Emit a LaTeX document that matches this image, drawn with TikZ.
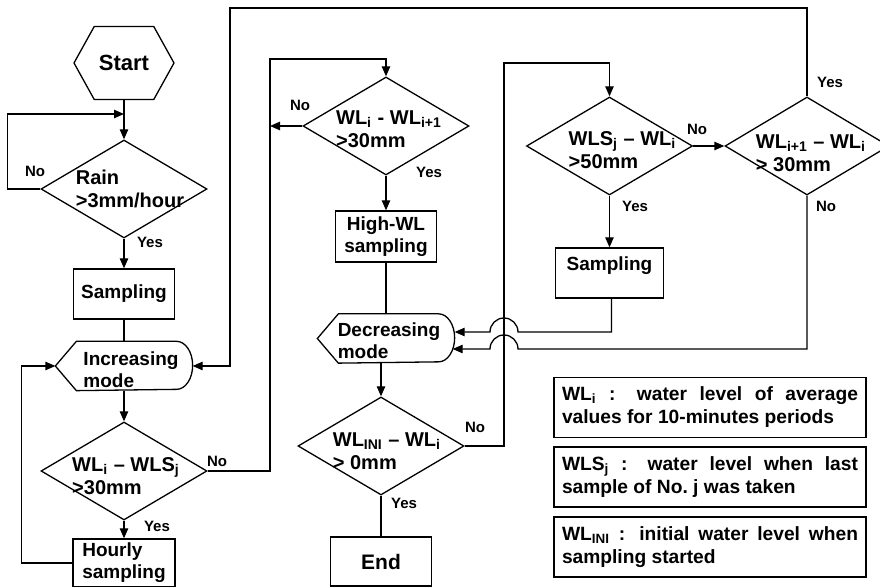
\documentclass[tikz,border=0pt]{standalone}
\usepackage{fontspec}
\setmainfont{Liberation Sans}
\usetikzlibrary{arrows.meta, shapes.geometric, shapes.symbols}

% outline of a "mode" node: pointed left end, rounded right end
\newcommand{\modeshape}[1]{%
  \draw (#1.west) -- ([xshift=10.5pt]#1.north west) -- ([xshift=-8pt]#1.north east)
    arc[start angle=90, end angle=-90, x radius=8pt, y radius=12pt]
    -- ([xshift=10.5pt]#1.south west) -- cycle;}
\newcommand{\nohyph}{\hyphenpenalty=10000\relax}

\begin{document}
\begin{tikzpicture}[x=0.5pt, y=-0.5pt, line width=0.65pt,
    >={Triangle[length=5pt, width=4.2pt]},
    font=\fontsize{9.5}{11}\selectfont\bfseries,
    box/.style={draw, minimum width=50.5pt, minimum height=25pt, inner sep=1pt, align=center},
    dec/.style={draw, diamond, inner sep=0pt, minimum width=83pt, minimum height=49pt},
    dtext/.style={font=\fontsize{10}{11.5}\selectfont\bfseries, align=left, inner sep=0pt},
    mode/.style={minimum width=68pt, minimum height=24pt, inner sep=0pt},
    mtext/.style={align=left, inner sep=0pt},
    lbl/.style={font=\fontsize{7.5}{9}\selectfont\bfseries, inner sep=0pt},
    leg/.style={draw, text width=148pt, inner xsep=4pt, minimum height=30pt, align=justify,
                font=\fontsize{9.6}{11.5}\selectfont\bfseries\nohyph}]
  \useasboundingbox (0,0) rectangle (880,587);

  % left column
  \node[draw, signal, signal to=west and east, signal pointer angle=122, minimum width=50pt,
        minimum height=36.5pt, inner sep=0pt, font=\fontsize{11}{13}\selectfont\bfseries] (start) at (124,63) {Start};
  \node[dec, label={[dtext, xshift=3pt]center:Rain\\>3mm/hour}] (rain) at (124,189) {};
  \node[box] (samp1) at (124,294) {Sampling};
  \node[mode, label={[mtext, xshift=3.5pt, yshift=-2pt]center:Increasing\\mode}] (incm) at (124,366) {};
  \modeshape{incm}
  \node[dec, label={[dtext, xshift=1pt, yshift=-2.5pt]center:WL\textsubscript{i} – WLS\textsubscript{j}\\>30mm}] (cond1) at (124,471) {};
  \node[box, align=left, minimum width=51pt, minimum height=24pt] (hourly) at (124,563) {Hourly\\sampling};

  % middle column
  \node[dec, label={[dtext, xshift=1.5pt, yshift=-1.5pt]center:WL\textsubscript{i} - WL\textsubscript{i+1}\\>30mm}] (cond2) at (386,126) {};
  \node[box, minimum height=25.5pt] (highwl) at (386,236.5) {High-WL\\sampling};
  \node[mode, label={[mtext, xshift=1.5pt, yshift=-1pt]center:Decreasing\\mode}] (decm) at (386,338.5) {};
  \modeshape{decm}
  \node[dec, label={[dtext, xshift=3pt, yshift=-2.5pt]center:WL\textsubscript{INI} – WL\textsubscript{i}\\> 0mm}] (cond3) at (381,446) {};
  \node[box, minimum height=24.5pt, font=\fontsize{10.5}{12}\selectfont\bfseries] (endb) at (381,561.5) {End};

  % right column
  \node[dec, label={[dtext, xshift=6.5pt, yshift=-2pt]center:WLS\textsubscript{j} – WL\textsubscript{i}\\>50mm}] (cond4) at (609.5,146) {};
  \node[box, minimum width=54pt, text height=7pt, text depth=9.4pt] (samp2) at (609.5,273) {Sampling};
  \node[dec, minimum width=82pt, label={[dtext, xshift=2pt, yshift=-3.5pt]center:WL\textsubscript{i+1} – WL\textsubscript{i}\\> 30mm}] (cond5) at (807,146) {};

  % legend
  \node[leg] (leg1) at (710,407.5) {WL\textsubscript{i} : water level of average values for 10-minutes periods};
  \node[leg] (leg2) at (710,477) {WLS\textsubscript{j} : water level when last sample of No.~j was taken};
  \node[leg] (leg3) at (710,547) {WL\textsubscript{INI} : initial water level when sampling started};

  % corners and jumps
  \coordinate (rainin) at (124,114);
  \coordinate (lna) at (270,59);
  \coordinate (lnb) at (504,63);
  \coordinate (ja) at (518,332);
  \coordinate (jb) at (518,349);
  \coordinate (top) at (230,8);

  \draw[->] (start.south) -- (rain.north);
  \draw[->] (rain.west) -- ++(-33,0) |- (rainin);
  \draw[->] (rain.south) -- (samp1.north);
  \draw (samp1.south) -- (incm.north);
  \draw[->] (incm.south) -- (cond1.north);
  \draw[->] (cond1.south) -- (hourly.north);
  \draw[->] (hourly.west) -- ++(-51,0) |- (incm.west);
  \draw[->] (cond1.east) -| (lna) -| (cond2.north);
  \draw[->] (cond2.west) -- (lna |- cond2.west);
  \draw[->] (cond2.south) -- (highwl.north);
  \draw (highwl.south) -- (decm.north);
  \draw[->] (decm.south -| cond3.north) -- (cond3.north);
  \draw (cond3.south) -- (endb.north);
  \draw[->] (cond3.east) -| (lnb) -| (cond4.north);
  \draw[->] (cond4.east) -- (cond5.west);
  \draw[->] (cond4.south) -- (samp2.north);
  \draw[->] ([xshift=1pt]samp2.south) |- (ja) arc[start angle=0, end angle=180, radius=7pt]
    -- (decm.east |- ja);
  \draw[->] (cond5.south) |- (jb) arc[start angle=0, end angle=180, radius=7pt]
    -- ([xshift=-1pt]decm.east |- jb);
  \draw[->] (cond5.north) |- (top) |- (incm.east);

  % yes / no
  \node[lbl] (rainno) at (35,171) {No};
  \node[lbl] (rainyes) at (150,242) {Yes};
  \node[lbl] (c1no) at (217,461) {No};
  \node[lbl] (c1yes) at (157,526) {Yes};
  \node[lbl] (c2no) at (300,105) {No};
  \node[lbl] (c2yes) at (429,172) {Yes};
  \node[lbl] (c3no) at (475,427) {No};
  \node[lbl] (c3yes) at (404,503) {Yes};
  \node[lbl] (c4no) at (697,129) {No};
  \node[lbl] (c4yes) at (635,206) {Yes};
  \node[lbl] (c5no) at (826,206) {No};
  \node[lbl] (c5yes) at (830,82) {Yes};
\end{tikzpicture}
\end{document}
